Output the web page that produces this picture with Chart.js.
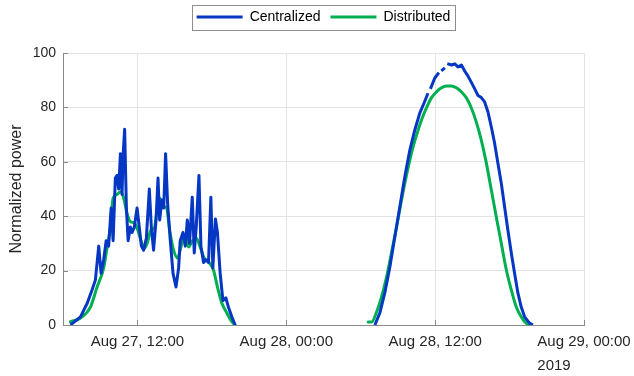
<!DOCTYPE html>
<html>
<head>
<meta charset="utf-8">
<title>Normalized power</title>
<script src="https://cdn.jsdelivr.net/npm/chart.js@4/dist/chart.umd.min.js"></script>
<style>
  html, body { margin: 0; padding: 0; background: #ffffff; }
  #wrap { width: 634px; height: 376px; }
</style>
</head>
<body>
<div id="wrap"><canvas id="chart" width="634" height="376"></canvas></div>
<script>
// Time is counted in hours from Aug 27, 2019 00:00.
const seriesNames = ['Centralized', 'Distributed'];

const centralizedHours = [
  6.60, 7.41, 7.95, 8.35, 8.61, 8.88, 9.07, 9.28, 9.48, 9.68,
  9.88, 10.04, 10.22, 10.36, 10.49, 10.63, 10.76, 10.84, 10.97, 11.11,
  11.25, 11.43, 11.57, 11.75, 11.97, 12.15, 12.32, 12.50, 12.72, 12.96,
  13.12, 13.30, 13.50, 13.66, 13.79, 13.98, 14.12, 14.27, 14.43, 14.65,
  14.87, 15.11, 15.32, 15.45, 15.67, 15.86, 16.02, 16.20, 16.42, 16.58,
  16.74, 16.96, 17.12, 17.33, 17.52, 17.73, 17.92, 18.08, 18.29, 18.45,
  18.67, 18.89, 19.13, 19.34, 19.61, 19.88,
  25.00,
  31.14, 31.54, 31.94, 32.35, 32.75, 33.15, 33.55, 33.96, 34.36, 34.76,
  35.14, 35.42, 35.52, 35.62, 35.97, 36.30, 36.40, 36.50, 36.78, 36.88,
  36.98, 37.31, 37.58, 37.84, 38.12, 38.38, 38.65, 38.92, 39.19, 39.45,
  39.72, 39.99, 40.26, 40.53, 40.79, 41.06, 41.33, 41.60, 41.86, 42.14,
  42.40, 42.67, 42.94, 43.21, 43.61, 43.88
];
const centralizedPower = [
  0, 3, 8, 13, 16.5, 29, 19, 24, 31, 29,
  43, 31, 54, 55, 50, 63, 48, 62, 72, 43,
  31, 36, 34, 36, 43, 36, 29, 27.5, 32, 50,
  36, 27.5, 38.6, 54, 38.6, 46, 43, 63, 45, 31,
  19, 14, 21, 31, 34, 29, 38.6, 30, 47, 26.5,
  36, 55, 29, 23, 24, 23, 47, 21, 39, 34,
  19, 9, 10, 6.5, 3, 0,
  null,
  0, 4.4, 11.8, 21.3, 32.4, 43.4, 54.4, 64.3, 71.7, 77.9,
  82, 85.2, null, 86.8, 90.8, 92.8, null, 93.4, 94.5, null,
  96.1, 95.6, 96, 94.9, 95.6, 93.4, 91.5, 89.2, 86.8, 84.4,
  83.6, 82, 78.3, 72.8, 66.9, 59.5, 52.2, 43.4, 35, 26.5,
  19.1, 11.8, 6.6, 3, 0.7, 0
];

const distributedHours = [
  6.60, 7.41, 8.21, 8.75, 9.28, 9.56, 9.82, 10.04, 10.36, 10.63,
  10.89, 11.16, 11.43, 11.75, 12.02, 12.29, 12.56, 12.82, 13.10, 13.36,
  13.58, 13.79, 14.03, 14.33, 14.59, 14.91, 15.24, 15.51, 15.86, 16.12,
  16.44, 16.74, 17.06, 17.38, 17.73, 18.13, 18.45, 18.81, 19.21, 19.61,
  19.88,
  25.00,
  30.60, 30.88, 31.28, 31.68, 32.08, 32.48, 32.89, 33.29, 33.69, 34.09,
  34.50, 34.90, 35.30, 35.70, 36.10, 36.51, 36.91, 37.31, 37.71, 38.12,
  38.52, 38.92, 39.32, 39.72, 40.13, 40.53, 40.93, 41.33, 41.74, 42.14,
  42.54, 42.94, 43.34, 43.75
];
const distributedPower = [
  1.2, 2.6, 6.6, 14, 21, 28.7, 36, 46.7, 48, 49,
  46.7, 41, 38, 37.5, 35, 31, 28.2, 30.5, 35, 35.6,
  42.3, 46.7, 43.4, 43.4, 35, 27.6, 24.6, 28.7, 33, 28.7,
  31, 32, 28.7, 24.6, 23.2, 20.2, 14, 8, 4.4, 1.2,
  0,
  null,
  1.1, 1.1, 4.8, 10.3, 17.6, 26.5, 36, 46, 55.1, 63.2,
  69.8, 75.4, 79.8, 83.5, 85.7, 87.2, 87.9, 87.9, 87.2, 85.7,
  83.5, 79.8, 74.6, 68, 59.5, 49.6, 39.7, 30.1, 20.2, 12.9,
  6.6, 3, 0.7, 0
];

const tickHours = [12, 24, 36, 48];
const tickLabels = ['Aug 27, 12:00', 'Aug 28, 00:00', 'Aug 28, 12:00', 'Aug 29, 00:00'];
const yearLabel = '2019';
const axisTitle = 'Normalized power';

const FONT = '"Liberation Sans", Arial, Helvetica, sans-serif';
const TEXT = '#262626';
const AXIS = '#8a8a8a';
const GRID = '#e4e4e4';
const X_FONT_SIZE = 15;

const toPoints = (hours, values) => hours.map((h, i) => ({ x: h, y: values[i] }));

// Extra room under the legend, and the legend centred over the plot area.
const legendPlacement = {
  id: 'legendPlacement',
  beforeInit(chart) {
    const lg = chart.legend;
    if (!lg) return;
    const fit = lg.fit;
    lg.fit = function () { fit.call(this); this.height = 53; };
  },
  afterLayout(chart) {
    const lg = chart.legend;
    if (!lg) return;
    lg.left = chart.chartArea.left;
    lg.right = chart.chartArea.right;
    lg.width = lg.right - lg.left;
  }
};

// Thin frame round the legend entries.
const legendFrame = {
  id: 'legendFrame',
  afterDraw(chart) {
    const boxes = chart.legend && chart.legend.legendHitBoxes;
    if (!boxes || !boxes.length) return;
    const left = Math.min(...boxes.map(b => b.left));
    const right = Math.max(...boxes.map(b => b.left + b.width));
    const cy = boxes[0].top + boxes[0].height / 2;
    const ctx = chart.ctx;
    ctx.save();
    ctx.strokeStyle = '#8c8c8c';
    ctx.lineWidth = 1;
    ctx.strokeRect(Math.round(left - 5) + 0.5, Math.round(cy - 12.5) + 0.5,
                   Math.round(right - left + 9), 25);
    ctx.restore();
  }
};

// Tick marks pointing into the plot, plus the year under the last date.
const axisExtras = {
  id: 'axisExtras',
  afterDraw(chart) {
    const { ctx, chartArea: a, scales: { x, y } } = chart;
    ctx.save();
    ctx.strokeStyle = AXIS;
    ctx.lineWidth = 1;
    ctx.beginPath();
    y.ticks.forEach(t => {
      const py = Math.round(y.getPixelForValue(t.value)) + 0.5;
      ctx.moveTo(a.left, py); ctx.lineTo(a.left + 5, py);
    });
    x.ticks.forEach(t => {
      const px = Math.round(x.getPixelForValue(t.value)) + 0.5;
      ctx.moveTo(px, a.bottom); ctx.lineTo(px, a.bottom - 5);
    });
    ctx.stroke();

    const last = tickHours.length - 1;
    ctx.font = X_FONT_SIZE + 'px ' + FONT;
    const w = ctx.measureText(tickLabels[last]).width;
    ctx.fillStyle = TEXT;
    ctx.textAlign = 'left';
    ctx.textBaseline = 'top';
    ctx.fillText(yearLabel, x.getPixelForValue(tickHours[last]) - w / 2, a.bottom + 33);
    ctx.restore();
  }
};

new Chart(document.getElementById('chart'), {
  type: 'line',
  data: {
    datasets: [
      {
        label: seriesNames[0],
        data: toPoints(centralizedHours, centralizedPower),
        borderColor: '#0536c4',
        backgroundColor: '#0536c4',
        borderWidth: 3,
        pointRadius: 0,
        tension: 0,
        spanGaps: false,
        borderCapStyle: 'butt',
        borderJoinStyle: 'round'
      },
      {
        label: seriesNames[1],
        data: toPoints(distributedHours, distributedPower),
        borderColor: '#00b050',
        backgroundColor: '#00b050',
        borderWidth: 3,
        pointRadius: 0,
        cubicInterpolationMode: 'monotone',
        spanGaps: false,
        borderCapStyle: 'round',
        borderJoinStyle: 'round'
      }
    ]
  },
  options: {
    responsive: false,
    animation: false,
    devicePixelRatio: 1,
    layout: { padding: { left: 0, right: 50, top: 0, bottom: 0 } },
    plugins: {
      legend: {
        position: 'top',
        align: 'center',
        labels: {
          usePointStyle: true,
          pointStyle: 'line',
          pointStyleWidth: 46,
          padding: 10,
          color: '#000000',
          font: { family: FONT, size: 14 }
        }
      },
      tooltip: { enabled: false }
    },
    scales: {
      x: {
        type: 'linear',
        min: 6,
        max: 48,
        afterBuildTicks: s => { s.ticks = tickHours.map(v => ({ value: v })); },
        afterFit: s => { s.height = 51; s.paddingLeft = 0; s.paddingRight = 0; },
        ticks: {
          callback: (v, i) => tickLabels[i],
          autoSkip: false,
          maxRotation: 0,
          padding: 8,
          color: TEXT,
          font: { family: FONT, size: X_FONT_SIZE }
        },
        grid: { color: GRID, drawTicks: false },
        border: { color: AXIS }
      },
      y: {
        min: 0,
        max: 100,
        afterFit: s => { s.width = 63; },
        ticks: {
          stepSize: 20,
          padding: 7,
          color: TEXT,
          font: { family: FONT, size: 14 }
        },
        grid: { color: GRID, drawTicks: false },
        border: { color: AXIS },
        title: {
          display: true,
          text: axisTitle,
          color: TEXT,
          padding: { top: 7, bottom: 0 },
          font: { family: FONT, size: 16 }
        }
      }
    }
  },
  plugins: [legendPlacement, legendFrame, axisExtras]
});
</script>
</body>
</html>
